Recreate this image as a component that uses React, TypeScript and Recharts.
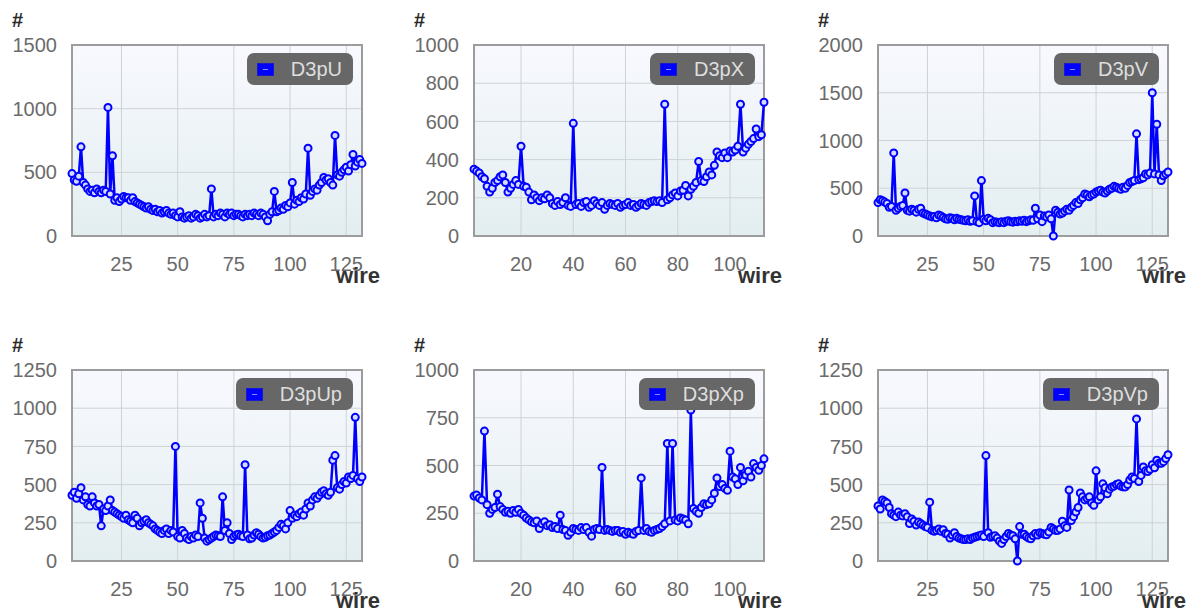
import React from "react";
import { LineChart, Line, XAxis, YAxis, CartesianGrid, ReferenceArea, Legend } from "recharts";

const FONT = '"Liberation Sans", Arial, sans-serif';

// hits per wire, one list per plane
const d3pU = [
  490, 440, 430, 470, 700, 420, 400, 370, 350, 360,
  340, 370, 350, 340, 360, 350, 1010, 330, 630, 280,
  300, 270, 290, 310, 300, 300, 280, 300, 270, 260,
  250, 240, 230, 220, 230, 210, 200, 210, 190, 200,
  180, 190, 200, 180, 170, 180, 160, 150, 190, 150,
  140, 150, 160, 140, 150, 170, 160, 140, 150, 170,
  150, 160, 370, 150, 170, 160, 180, 170, 150, 180,
  170, 180, 160, 170, 170, 160, 150, 170, 160, 170,
  160, 180, 170, 160, 180, 170, 150, 120, 170, 190,
  350, 190, 200, 220, 210, 240, 230, 260, 420, 250,
  280, 270, 300, 290, 330, 690, 320, 350, 370, 360,
  400, 420, 460, 440, 450, 420, 400, 790, 480, 470,
  500, 520, 540, 510, 560, 640, 550, 580, 600, 570,
];

const d3pX = [
  350, 340, 330, 310, 300, 260, 230, 250, 280, 290,
  310, 320, 280, 230, 250, 270, 290, 270, 470, 260,
  255, 230, 190, 215, 200, 185, 200, 195, 215, 200,
  170, 160, 180, 165, 175, 200, 160, 155, 590, 165,
  170, 155, 175, 180, 150, 160, 185, 170, 160, 175,
  140, 160, 170, 165, 160, 170, 150, 160, 165, 175,
  160, 165, 150, 160, 170, 165, 160, 175, 180, 185,
  180, 185, 175, 690, 190, 200, 215, 225, 210, 235,
  240, 265, 210, 245, 260, 280, 390, 290, 285, 310,
  335, 320, 370, 440, 420, 410, 435, 410, 445, 440,
  450, 470, 690, 440, 460, 480, 495, 510, 560, 520, 530, 700,
];

const d3pV = [
  350, 380, 370, 355, 340, 300, 310, 870, 270, 290,
  310, 320, 450, 270, 260, 280, 270, 250, 280, 290,
  240, 230, 220, 210, 200, 205, 190, 220, 210, 195,
  180, 175, 190, 185, 170, 185, 175, 170, 165, 160,
  170, 155, 160, 420, 150, 140, 580, 175, 160, 185,
  170, 140, 150, 145, 140, 150, 140, 155, 160, 150,
  145, 155, 150, 160, 155, 165, 150, 160, 170, 165,
  290, 180, 220, 150, 210, 200, 220, 180, 0, 270,
  250, 230, 240, 260, 280, 270, 300, 320, 350, 340,
  380, 400, 440, 430, 410, 430, 440, 460, 470, 480,
  460, 450, 470, 490, 500, 520, 510, 500, 490, 510,
  500, 530, 560, 570, 580, 1070, 590, 600, 610, 650,
  640, 660, 1500, 650, 1170, 640, 580, 630, 650, 670,
];

const d3pUp = [
  430, 450, 410, 440, 480, 400, 420, 370, 360, 420,
  380, 360, 370, 230, 340, 330, 360, 400, 330, 320,
  310, 300, 290, 280, 300, 270, 260, 250, 300, 280,
  230, 250, 260, 270, 250, 240, 230, 210, 200, 190,
  180, 200, 210, 180, 200, 190, 750, 160, 150, 200,
  180, 150, 140, 160, 150, 170, 160, 380, 280, 150,
  130, 140, 150, 160, 170, 165, 160, 420, 200, 250,
  180, 140, 160, 170, 175, 165, 160, 630, 170, 145,
  150, 170, 185, 175, 160, 150, 155, 165, 170, 180,
  190, 200, 220, 240, 230, 210, 250, 330, 280, 300,
  290, 310, 320, 300, 340, 380, 360, 400, 420, 410,
  430, 450, 460, 440, 430, 450, 660, 690, 480, 470,
  500, 520, 510, 550, 540, 560, 940, 540, 520, 550,
];

const d3pXp = [
  340, 345, 330, 320, 680, 295, 250, 270, 280, 350,
  285, 270, 255, 260, 250, 265, 255, 270, 250, 240,
  225, 215, 205, 200, 210, 170, 195, 205, 185, 190,
  175, 180, 170, 240, 165, 160, 135, 150, 170, 165,
  160, 175, 165, 175, 150, 130, 165, 170, 165, 490,
  160, 165, 160, 155, 160, 160, 150, 155, 140, 150,
  145, 140, 155, 160, 435, 160, 170, 155, 150, 160,
  165, 170, 180, 195, 615, 210, 615, 215, 210, 225,
  220, 215, 195, 790, 275, 260, 250, 280, 300, 295,
  300, 320, 355, 435, 390, 400, 380, 370, 575, 440,
  430, 400, 490, 420, 450, 470, 440, 510, 490, 475, 500, 535,
];

const d3pVp = [
  360, 340, 400, 390, 380, 350, 310, 300, 290, 320,
  300, 295, 310, 290, 245, 275, 260, 235, 255, 245,
  235, 225, 220, 385, 200, 195, 200, 210, 195, 205,
  180, 175, 150, 170, 185, 160, 150, 145, 140, 140,
  145, 140, 150, 155, 160, 165, 170, 160, 690, 185,
  155, 160, 165, 150, 130, 115, 140, 160, 180, 170,
  165, 145, 0, 225, 175, 175, 160, 150, 145, 165,
  180, 170, 185, 180, 175, 172, 190, 220, 210, 200,
  200, 210, 260, 230, 220, 465, 265, 290, 320, 350,
  445, 420, 400, 410, 420, 380, 365, 590, 400, 420,
  505, 480, 440, 470, 485, 490, 500, 505, 490, 485,
  485, 500, 530, 550, 540, 930, 520, 560, 615, 590,
  585, 600, 630, 610, 660, 640, 640, 650, 670, 695,
];

const ticksUV = [25, 50, 75, 100, 125];
const ticksX = [20, 40, 60, 80, 100];

const panels = [
  { name: "D3pU", values: d3pU, firstWire: 3, xTicks: ticksUV, yTicks: [0, 500, 1000, 1500], left: 0, top: 0 },
  { name: "D3pX", values: d3pX, firstWire: 2, xTicks: ticksX, yTicks: [0, 200, 400, 600, 800, 1000], left: 402, top: 0 },
  { name: "D3pV", values: d3pV, firstWire: 3, xTicks: ticksUV, yTicks: [0, 500, 1000, 1500, 2000], left: 806, top: 0 },
  { name: "D3pUp", values: d3pUp, firstWire: 3, xTicks: ticksUV, yTicks: [0, 250, 500, 750, 1000, 1250], left: 0, top: 325 },
  { name: "D3pXp", values: d3pXp, firstWire: 2, xTicks: ticksX, yTicks: [0, 250, 500, 750, 1000], left: 402, top: 325 },
  { name: "D3pVp", values: d3pVp, firstWire: 3, xTicks: ticksUV, yTicks: [0, 250, 500, 750, 1000, 1250], left: 806, top: 325 },
];

function Badge({ name }: { name: string }) {
  return (
    <div
      style={{
        display: "flex",
        alignItems: "center",
        height: 32,
        padding: "0 11px 0 10px",
        background: "#676767",
        borderRadius: 7,
        fontFamily: FONT,
        fontSize: 20,
        color: "#dedede",
        whiteSpace: "nowrap",
      }}
    >
      <svg width={17} height={13} style={{ display: "block" }}>
        <rect x={0.5} y={0.5} width={16} height={12} fill="#0000ff" stroke="#1a1acc" />
        <line x1={6} x2={11} y1={6.5} y2={6.5} stroke="#8c8cff" strokeWidth={1} />
      </svg>
      <span style={{ marginLeft: 17 }}>{name}</span>
    </div>
  );
}

function Panel({ p }: { p: (typeof panels)[number] }) {
  const rows = p.values.map((v, i) => ({ wire: p.firstWire + i, hits: v }));
  const lastWire = p.firstWire + p.values.length - 1;
  const yMax = p.yTicks[p.yTicks.length - 1];
  const gradId = `plotbg-${p.name}`;
  const tickStyle = { fill: "#6b6b6b", fontSize: 20, fontFamily: FONT };

  return (
    <div style={{ position: "absolute", left: p.left, top: p.top, width: 400, height: 300 }}>
      <LineChart width={400} height={300} data={rows} margin={{ top: 45, right: 38, bottom: 24, left: 0 }}>
        <defs>
          <linearGradient id={gradId} x1="0" y1="0" x2="0" y2="1">
            <stop offset="0%" stopColor="#f8f9fe" />
            <stop offset="100%" stopColor="#e3eef1" />
          </linearGradient>
        </defs>
        <CartesianGrid stroke="#cfd3d5" fill={`url(#${gradId})`} fillOpacity={1} />
        <XAxis
          dataKey="wire"
          type="number"
          domain={[p.firstWire, lastWire]}
          ticks={p.xTicks}
          interval={0}
          axisLine={false}
          tickLine={false}
          tickMargin={15}
          height={40}
          tick={tickStyle}
        />
        <YAxis
          type="number"
          domain={[0, yMax]}
          ticks={p.yTicks}
          interval={0}
          width={72}
          axisLine={false}
          tickLine={false}
          tickMargin={9}
          tick={tickStyle}
        />
        <ReferenceArea
          x1={p.firstWire}
          x2={lastWire}
          y1={0}
          y2={yMax}
          fill="none"
          stroke="#9c9c9c"
          strokeWidth={2}
        />
        <Legend
          layout="vertical"
          align="center"
          verticalAlign="middle"
          wrapperStyle={{ top: 53, right: 47, left: "auto", width: "auto", height: "auto" }}
          content={() => <Badge name={p.name} />}
        />
        <Line
          dataKey="hits"
          name={p.name}
          stroke="#0000ff"
          strokeWidth={2.5}
          dot={{ r: 3.5, stroke: "#0000ff", strokeWidth: 2, fill: "#d6dcff" }}
          isAnimationActive={false}
        />
      </LineChart>
      <div
        style={{
          position: "absolute", left: 12, top: 10, fontFamily: FONT, fontWeight: "bold",
          fontSize: 20, lineHeight: "20px", color: "#2b2b2b",
        }}
      >
        #
      </div>
      <div
        style={{
          position: "absolute", left: 336, top: 265, fontFamily: FONT, fontWeight: "bold",
          fontSize: 22, lineHeight: "22px", color: "#333",
        }}
      >
        wire
      </div>
    </div>
  );
}

export default function App() {
  return (
    <div style={{ position: "absolute", left: 0, top: 0, width: 1193, height: 613, background: "#fff" }}>
      {panels.map((p) => (
        <Panel key={p.name} p={p} />
      ))}
    </div>
  );
}
